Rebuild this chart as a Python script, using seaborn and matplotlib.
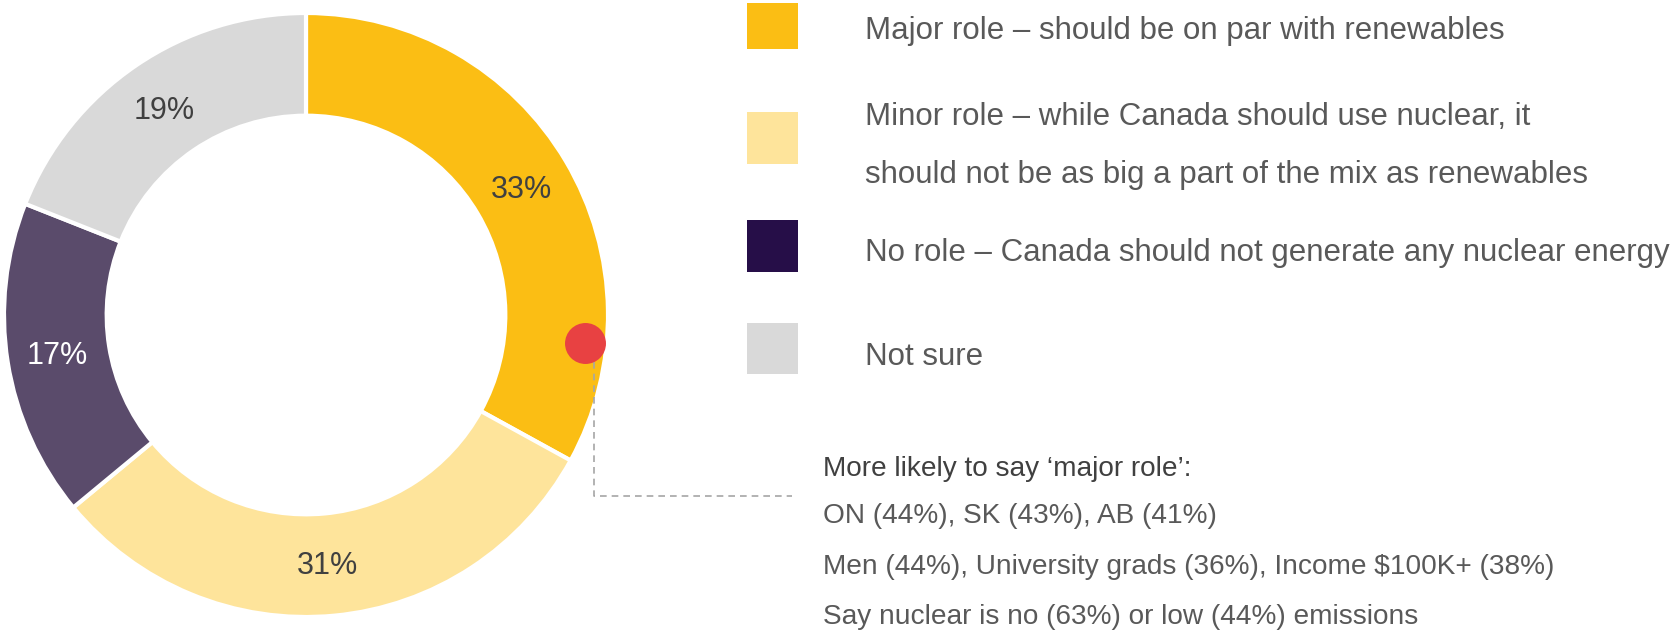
import matplotlib
matplotlib.use("Agg")
import matplotlib.pyplot as plt
import seaborn as sns

# Survey shares
categories = [
    "Major role \u2013 should be on par with renewables",
    "Minor role \u2013 while Canada should use nuclear, it\nshould not be as big a part of the mix as renewables",
    "No role \u2013 Canada should not generate any nuclear energy",
    "Not sure",
]
shares = [33, 31, 17, 19]
wedge_colors = ["#FBBE14", "#FEE49B", "#5A4B6B", "#D9D9D9"]
key_colors = ["#FBBE14", "#FEE49B", "#260E48", "#D9D9D9"]
label_colors = ["#404040", "#404040", "#FFFFFF", "#404040"]

callout_title = "More likely to say \u2018major role\u2019:"
callout_lines = [
    "ON (44%), SK (43%), AB (41%)",
    "Men (44%), University grads (36%), Income $100K+ (38%)",
    "Say nuclear is no (63%) or low (44%) emissions",
]

sns.set_theme(style="white")
plt.rcParams["font.family"] = ["Liberation Sans", "DejaVu Sans"]

W, H = 1676, 630
fig = plt.figure(figsize=(W / 100, H / 100), dpi=100)
fig.patch.set_facecolor("white")

cx, cy, R = 306, 315, 302
ax = fig.add_axes([(cx - R) / W, (H - cy - R) / H, 2 * R / W, 2 * R / H])
wedges, _ = ax.pie(
    shares,
    colors=wedge_colors,
    startangle=90,
    counterclock=False,
    radius=1.0,
    wedgeprops=dict(width=0.34, edgecolor="white", linewidth=3),
)
ax.set_xlim(-1, 1)
ax.set_ylim(-1, 1)
ax.set_aspect("equal")
ax.axis("off")

def px(x, y):
    return x / W, 1 - y / H

# Percentage labels on the ring
label_pos = [(521, 190), (327, 566), (57, 356), (164, 111)]
for v, (lx, ly), c in zip(shares, label_pos, label_colors):
    fig.text(*px(lx, ly), f"{v}%", ha="center", va="center",
             fontsize=22, color=c)

# Callout marker and dashed connector
dot_x, dot_y = (585 - cx) / R, (cy - 343) / R
line_x = (594 - cx) / R
ax.plot([line_x, line_x, (792 - cx) / R], [(cy - 362) / R, (cy - 496) / R, (cy - 496) / R],
        ls=(0, (4, 3)), color="#A6A6A6", lw=1.2, clip_on=False, zorder=3)
ax.scatter([dot_x], [dot_y], s=870, color="#E84142", zorder=4, clip_on=False,
           linewidths=0)

# Legend keys and text
key_boxes = [(3, 49), (112, 164), (220, 272), (323, 374)]
text_rows = [[31], [117, 175], [253], [357]]
for (y0, y1), rows, col, name in zip(key_boxes, text_rows, key_colors, categories):
    kx = fig.add_axes([747 / W, 1 - y1 / H, 51 / W, (y1 - y0) / H])
    kx.set_facecolor(col)
    kx.set_xticks([]); kx.set_yticks([])
    for s in kx.spines.values():
        s.set_visible(False)
    for ty, part in zip(rows, name.split("\n")):
        fig.text(*px(865, ty), part, ha="left", va="center", fontsize=22.5,
                 color="#595959")

# Callout text
fig.text(*px(823, 469), callout_title, ha="left", va="center", fontsize=20.2,
         color="#404040")
for ty, line in zip([516, 567, 617], callout_lines):
    fig.text(*px(823, ty), line, ha="left", va="center", fontsize=20.2,
             color="#595959")

fig.savefig("out.png", dpi=100, facecolor="white")
